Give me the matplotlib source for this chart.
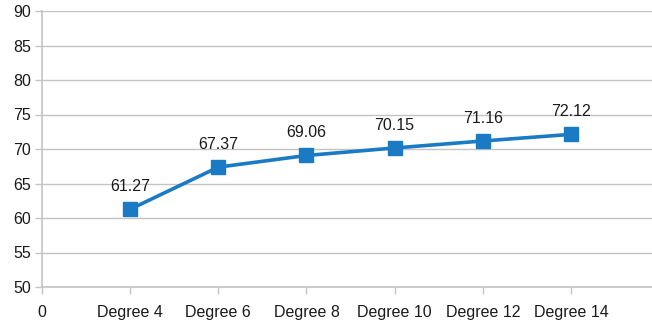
import matplotlib.pyplot as plt

plt.rcParams["font.family"] = ["Liberation Sans", "DejaVu Sans"]

# accuracy per polynomial degree
categories = ["Degree 4", "Degree 6", "Degree 8", "Degree 10", "Degree 12", "Degree 14"]
values = [61.27, 67.37, 69.06, 70.15, 71.16, 72.12]
y_ticks = [50, 55, 60, 65, 70, 75, 80, 85, 90]

grid_col = "#c3c3c3"
line_col = "#1a7bc4"
text_col = "#1a1a1a"

fig = plt.figure(figsize=(6.52, 3.25), dpi=100)
ax = fig.add_axes([42 / 652, 1 - 287 / 325, 610 / 652, 276 / 325])

xs = list(range(1, len(values) + 1))
ax.plot(xs, values, color=line_col, lw=2.6, marker="s", ms=9.5,
        markerfacecolor=line_col, markeredgecolor=line_col, zorder=3)

for x, v in zip(xs, values):
    ax.annotate(f"{v:.2f}", (x, v), xytext=(0, 16.5), textcoords="offset points",
                ha="center", va="center", fontsize=11.5, color=text_col)

ax.set_ylim(50, 90)
ax.set_yticks(y_ticks)
ax.set_xlim(0, 6.92)
ax.set_xticks([0] + xs)
ax.set_xticklabels(["0"] + categories)

ax.grid(axis="y", color=grid_col, lw=1)
ax.set_axisbelow(True)
for side in ["top", "right"]:
    ax.spines[side].set_visible(False)
for side in ["left", "bottom"]:
    ax.spines[side].set_color(grid_col)
    ax.spines[side].set_linewidth(1.2)

ax.tick_params(axis="both", colors=grid_col, length=5, width=1, labelsize=11.5,
               labelcolor=text_col)
ax.tick_params(axis="x", pad=8)
ax.tick_params(axis="y", pad=3)

fig.savefig("out.png", dpi=100)
